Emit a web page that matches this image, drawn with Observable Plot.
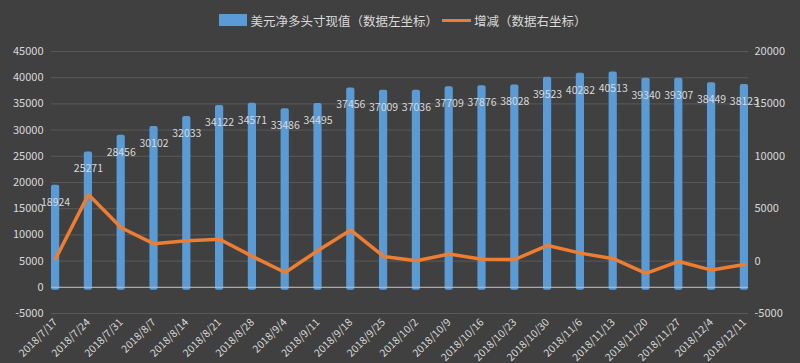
<!DOCTYPE html>
<html>
<head>
<meta charset="utf-8">
<script src="https://cdn.jsdelivr.net/npm/d3@7"></script>
<script src="https://cdn.jsdelivr.net/npm/@observablehq/plot@0.6"></script>
<style>
  html, body { margin: 0; padding: 0; background: #404040; width: 800px; height: 363px; overflow: hidden; }
  #legend { height: 40px; display: flex; justify-content: center; align-items: center; padding-top: 0; box-sizing: border-box;
    font-family: "Noto Sans CJK SC", "Noto Sans", sans-serif; font-size: 12.5px; color: #d9d9d9; padding-left: 6px; }
  .sw-bar { width: 28px; height: 12px; background: #5b9bd5; margin-right: 3px; }
  .sw-line { width: 29px; height: 3px; background: #ed7d31; margin-left: 4px; margin-right: 3px; }
  #chart svg { display: block; overflow: visible; }
</style>
</head>
<body>
<div id="legend">
  <div class="sw-bar"></div><span>美元净多头寸现值（数据左坐标）</span>
  <div class="sw-line"></div><span>增减（数据右坐标）</span>
</div>
<div id="chart"></div>
<script>
const dates = ["2018/7/17","2018/7/24","2018/7/31","2018/8/7","2018/8/14","2018/8/21","2018/8/28","2018/9/4","2018/9/11","2018/9/18","2018/9/25","2018/10/2","2018/10/9","2018/10/16","2018/10/23","2018/10/30","2018/11/6","2018/11/13","2018/11/20","2018/11/27","2018/12/4","2018/12/11"];
const netLong = [18924,25271,28456,30102,32033,34122,34571,33486,34495,37456,37009,37036,37709,37876,38028,39523,40282,40513,39340,39307,38449,38123];
const change = [220,6347,3185,1646,1931,2089,449,-1085,1009,2961,447,27,673,167,152,1495,759,231,-1173,-33,-858,-326];
const leftTicks = [-5000,0,5000,10000,15000,20000,25000,30000,35000,40000,45000];
const rightTicks = [-5000,0,5000,10000,15000,20000];

const data = dates.map((d, i) => ({date: d, value: netLong[i], change: change[i]}));
// right axis [-5000, 20000] mapped onto left axis [-5000, 45000]
const toLeft = v => (v + 5000) * 2 - 5000;

const chart = Plot.plot({
  width: 800,
  height: 323,
  marginTop: 11,
  marginBottom: 50,
  marginLeft: 51,
  marginRight: 52,
  style: {background: "#404040", color: "#d9d9d9", fontFamily: "'Noto Sans CJK SC', 'Noto Sans', sans-serif", fontSize: "11px", overflow: "visible"},
  x: {type: "band", domain: dates, paddingInner: 0.75, paddingOuter: 0, round: false, label: null},
  y: {domain: [-5000, 45000], label: null},
  marks: [
    Plot.ruleY(leftTicks, {stroke: "#595959", strokeWidth: 1}),
    Plot.barY(data, {x: "date", y: "value", fill: "#5b9bd5", insetTop: -3, insetBottom: -3, rx: 2}),
    Plot.ruleY([0], {stroke: "#bfbfbf", strokeWidth: 1}),
    Plot.line(data, {x: "date", y: d => toLeft(d.change), stroke: "#ed7d31", strokeWidth: 3.5, strokeLinejoin: "miter"}),
    Plot.text(data, {x: "date", y: "value", text: d => String(d.value), dy: 14, fill: "#d9d9d9", fontSize: 10.5}),
    Plot.axisY({anchor: "left", ticks: leftTicks, tickSize: 0, tickPadding: 8, tickFormat: d => String(d), label: null}),
    Plot.axisY({anchor: "right", ticks: rightTicks.map(toLeft), tickSize: 0, tickPadding: 6, tickFormat: d => String((d + 5000) / 2 - 5000), label: null}),
    Plot.axisX({tickRotate: -45, tickSize: 0, tickPadding: 7, label: null, fontSize: 10.5})
  ]
});
document.getElementById("chart").appendChild(chart);
</script>
</body>
</html>
